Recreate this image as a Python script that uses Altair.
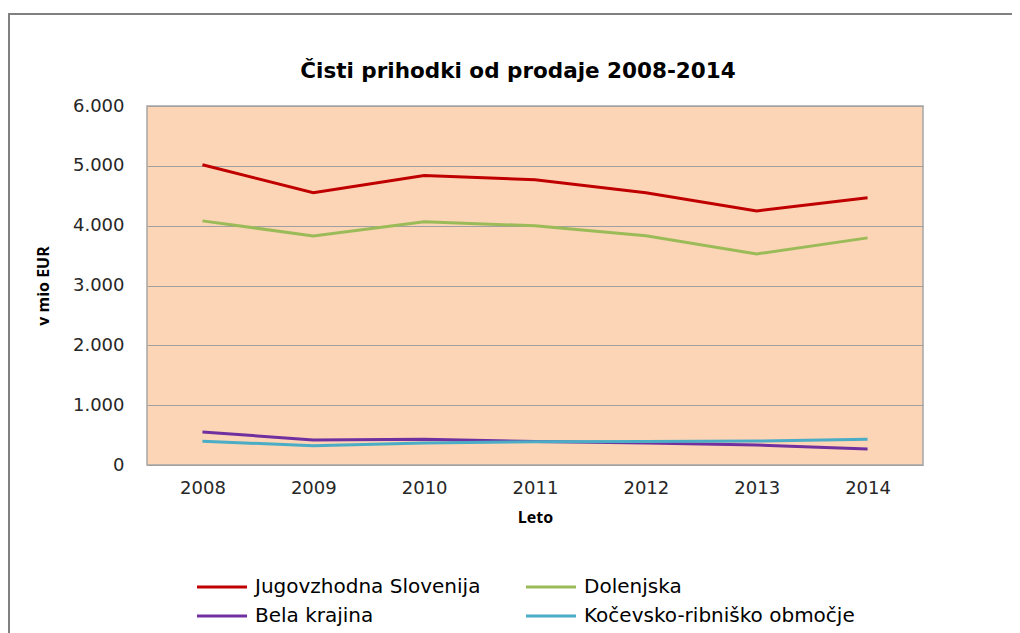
import altair as alt
import pandas as pd

years = ["2008", "2009", "2010", "2011", "2012", "2013", "2014"]
series_names = ["Jugovzhodna Slovenija", "Bela krajina", "Dolenjska", "Kočevsko-ribniško območje"]
jugovzhodna = [5017, 4550, 4840, 4766, 4550, 4247, 4465]
dolenjska = [4080, 3829, 4064, 3997, 3830, 3528, 3796]
bela_krajina = [552, 418, 430, 393, 368, 334, 268]
kocevsko = [396, 323, 368, 390, 393, 400, 430]
colors = ["#C00000", "#7030A0", "#9BBB59", "#4BACC6"]

rows = []
for name, vals in zip(series_names, [jugovzhodna, bela_krajina, dolenjska, kocevsko]):
    for y, v in zip(years, vals):
        rows.append({"Leto": y, "Regija": name, "Vrednost": v})
df = pd.DataFrame(rows)

W, H = 776, 359

lines = alt.Chart(df).mark_line(strokeWidth=3).encode(
    x=alt.X("Leto:O", scale=alt.Scale(type="point", padding=0.5),
            axis=alt.Axis(title="Leto", labelAngle=0, ticks=False, domain=False,
                          labelFont="DejaVu Sans", labelFontSize=18, labelColor="#262626",
                          labelPadding=14, titleFont="Open Sans", titleFontSize=16,
                          titleFontWeight="bold", titlePadding=12, titleColor="#000")),
    y=alt.Y("Vrednost:Q", scale=alt.Scale(domain=[0, 6000], nice=False),
            axis=alt.Axis(title="v mio EUR", values=[0, 1000, 2000, 3000, 4000, 5000, 6000],
                          labelExpr="replace(format(datum.value, ','), ',', '.')",
                          ticks=False, domain=False, labelFont="DejaVu Sans", labelFontSize=18,
                          labelColor="#262626", labelPadding=23, gridColor="#A0A0A0",
                          gridWidth=1, titleFont="Open Sans", titleFontSize=16,
                          titleFontWeight="bold", titleColor="#000",
                          titleX=-104, titleY=H / 2, titleAlign="center",
                          titleBaseline="middle", titleAngle=-90)),
    color=alt.Color("Regija:N", sort=series_names,
                    scale=alt.Scale(domain=series_names, range=colors),
                    legend=alt.Legend(title=None, orient="none", legendX=65, legendY=471,
                                      columns=2, columnPadding=39, rowPadding=9,
                                      symbolType="M-5,0H5", symbolSize=100,
                                      symbolStrokeWidth=3, labelFont="DejaVu Sans",
                                      labelFontSize=20, labelColor="#000", labelOffset=23,
                                      labelLimit=500)),
)

frame = alt.Chart(alt.Data(values=[{}])).mark_rect(
    fill=None, stroke="#808080", strokeWidth=2
).encode(
    x=alt.value(-138), x2=alt.value(W + 300), y=alt.value(-92), y2=alt.value(H + 400)
)

chart = alt.layer(frame, lines).properties(
    width=W, height=H,
    title=alt.TitleParams("Čisti prihodki od prodaje 2008-2014", font="DejaVu Sans",
                          fontSize=21.5, fontWeight="bold", anchor="middle", dx=-17,
                          offset=0, dy=86, baseline="alphabetic", color="#000"),
    padding={"left": 139, "top": 98, "right": 89, "bottom": 170},
    autosize="none",
    background="white",
).configure_view(fill="#FBD5B5", stroke="#A6A6A6", strokeWidth=1.5)

chart.save("out.html", embed_options={"renderer": "svg", "actions": False})
